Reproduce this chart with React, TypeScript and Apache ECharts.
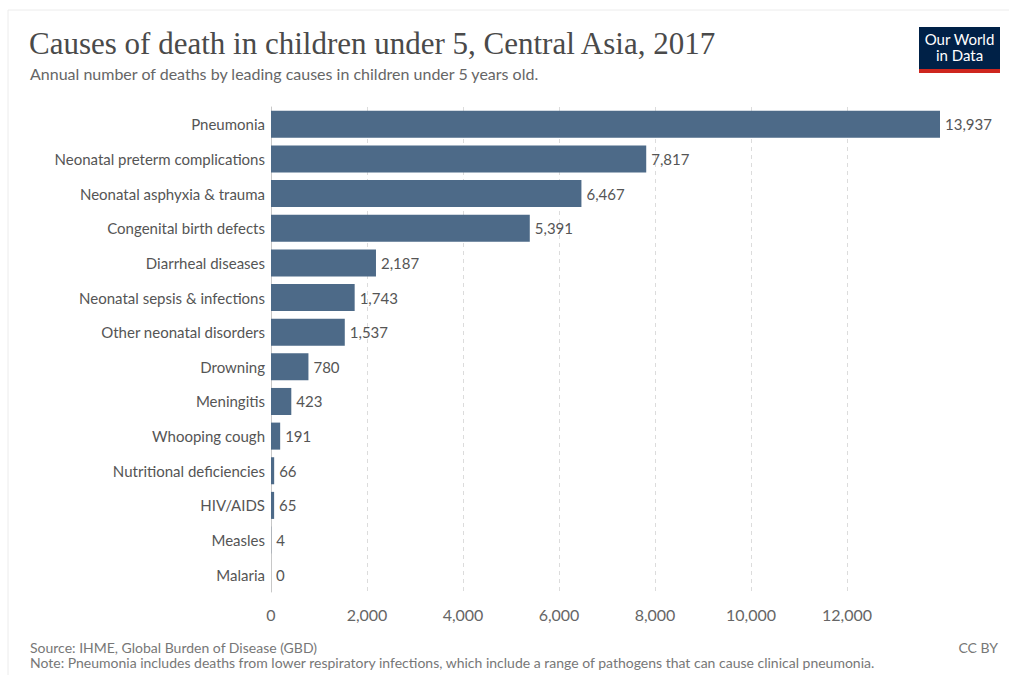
import React, { useEffect, useRef } from "react";
import * as echarts from "echarts";

const categories = [
  "Pneumonia",
  "Neonatal preterm complications",
  "Neonatal asphyxia & trauma",
  "Congenital birth defects",
  "Diarrheal diseases",
  "Neonatal sepsis & infections",
  "Other neonatal disorders",
  "Drowning",
  "Meningitis",
  "Whooping cough",
  "Nutritional deficiencies",
  "HIV/AIDS",
  "Measles",
  "Malaria",
];
const deaths = [13937, 7817, 6467, 5391, 2187, 1743, 1537, 780, 423, 191, 66, 65, 4, 0];
const gridValues = [2000, 4000, 6000, 8000, 10000, 12000];

const titleText = "Causes of death in children under 5, Central Asia, 2017";
const subtitleText = "Annual number of deaths by leading causes in children under 5 years old.";
const sourceText = "Source: IHME, Global Burden of Disease (GBD)";
const noteText =
  "Note: Pneumonia includes deaths from lower respiratory infections, which include a range of pathogens that can cause clinical pneumonia.";

const fmt = (v: number) => v.toLocaleString("en-US");

export default function App() {
  const ref = useRef<HTMLDivElement>(null);
  useEffect(() => {
    if (!ref.current) return;
    const chart = echarts.init(ref.current, null, { renderer: "svg" });
    const font = "Lato, 'Noto Sans', sans-serif";
    chart.setOption({
      animation: false,
      backgroundColor: "#fff",
      textStyle: { fontFamily: font },
      grid: { left: 271, width: 669, top: 107, bottom: 83, containLabel: false },
      xAxis: {
        type: "value",
        min: 0,
        max: 13937,
        interval: 2000,
        axisLine: { show: false },
        axisTick: { show: false },
        splitLine: { show: false },
        axisLabel: {
          showMaxLabel: false,
          color: "#666",
          fontSize: 16,
          margin: 14,
          fontFamily: font,
          formatter: (v: number) => fmt(v),
        },
      },
      yAxis: {
        type: "category",
        data: categories,
        inverse: true,
        axisLine: { show: true, lineStyle: { color: "#c8c8c8", width: 1 } },
        axisTick: { show: false },
        axisLabel: { color: "#555", fontSize: 15, margin: 6, fontFamily: font },
      },
      series: [
        {
          type: "bar",
          data: deaths,
          barCategoryGap: "22%",
          itemStyle: { color: "#4d6a88" },
          label: {
            show: true,
            position: "right",
            distance: 5,
            color: "#555",
            fontSize: 15,
            fontFamily: font,
            formatter: (p: any) => fmt(p.value),
          },
          markLine: {
            silent: true,
            symbol: "none",
            label: { show: false },
            lineStyle: { color: "#dcdcdc", type: [4, 4], width: 1 },
            data: gridValues.map((v) => ({ xAxis: v })),
            z: 0,
          },
          z: 2,
        },
      ],
      graphic: [
        {
          type: "rect",
          shape: { x: 8, y: 10, width: 1100, height: 700 },
          style: { fill: "none", stroke: "#ececec", lineWidth: 1 },
          silent: true,
        },
        {
          type: "text",
          left: 29,
          top: 28,
          style: {
            text: titleText,
            fill: "#4a4a4a",
            font: "31px 'Liberation Serif', 'DejaVu Serif', serif",
          },
        },
        {
          type: "text",
          left: 30,
          top: 65,
          style: { text: subtitleText, fill: "#666", font: `16px ${font}` },
        },
        {
          type: "group",
          left: 919,
          top: 27,
          children: [
            { type: "rect", shape: { x: 0, y: 0, width: 81, height: 46 }, style: { fill: "#002147" } },
            { type: "rect", shape: { x: 0, y: 42, width: 81, height: 4 }, style: { fill: "#ce261e" } },
            {
              type: "text",
              style: {
                x: 40.5,
                y: 4,
                text: "Our World\nin Data",
                fill: "#fff",
                font: `15px ${font}`,
                align: "center",
                lineHeight: 16,
              },
            },
          ],
        },
        {
          type: "text",
          left: 30,
          top: 640,
          style: { text: sourceText, fill: "#777", font: `14px ${font}` },
        },
        {
          type: "text",
          left: 30,
          top: 655,
          style: { text: noteText, fill: "#777", font: `14px ${font}` },
        },
        {
          type: "text",
          right: 11,
          top: 640,
          style: { text: "CC BY", fill: "#777", font: `14px ${font}` },
        },
      ],
    });
    return () => chart.dispose();
  }, []);
  return (
    <div
      ref={ref}
      style={{ position: "fixed", left: 0, top: 0, width: 1009, height: 675 }}
    />
  );
}
